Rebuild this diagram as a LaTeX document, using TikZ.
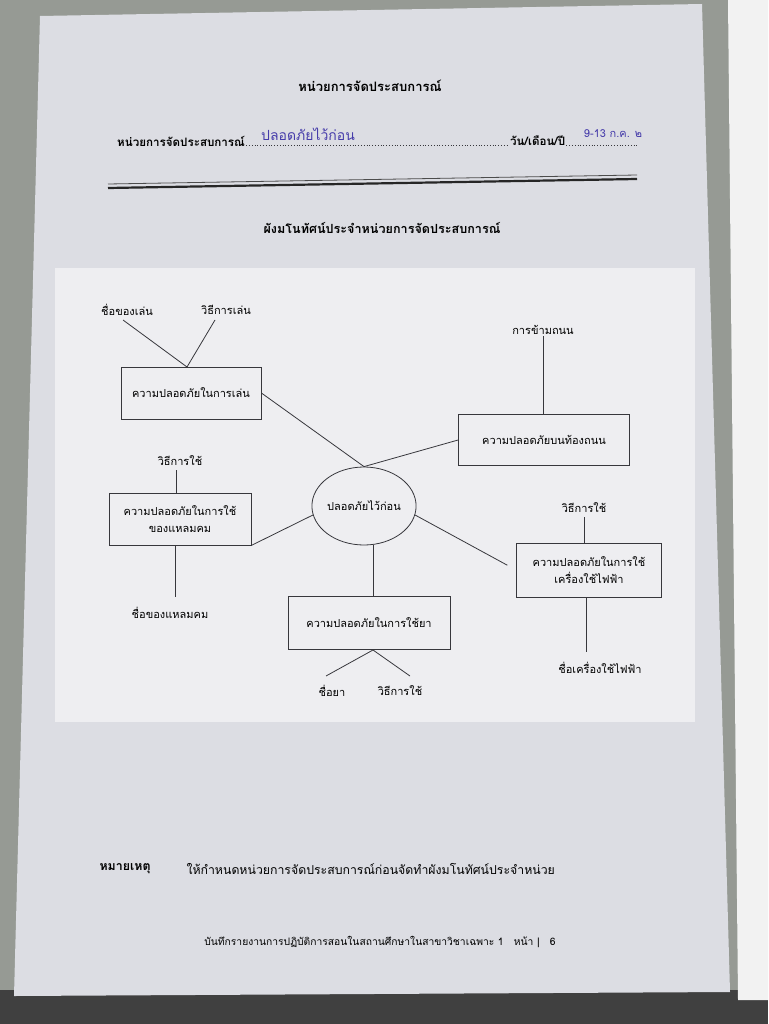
\documentclass[tikz,border=0pt]{standalone}
\usepackage{fontspec}
\newfontfamily\thai[Script=Thai]{Loma}
\usetikzlibrary{shapes.geometric}
\definecolor{ink}{RGB}{55,55,60}
\definecolor{pen}{RGB}{70,60,170}
\definecolor{paper}{RGB}{220,221,227}
\definecolor{panel}{RGB}{238,238,241}
\definecolor{floor}{RGB}{150,154,148}

\begin{document}
\begin{tikzpicture}[x=1pt,y=-1pt,font=\thai\fontsize{11}{13}\selectfont,
	box/.style={draw=ink,rectangle,thick,inner sep=2pt,align=center},
	lab/.style={inner sep=1pt},
	link/.style={draw=ink,thick}]
	\useasboundingbox (0,0) rectangle (768,1024);
	% page and background
	\fill[floor] (0,0) rectangle (768,1024);
	\fill[black!75] (0,990) rectangle (768,1024);
	\fill[white!90!gray] (728,0) -- (768,0) -- (768,1000) -- (738,1000) -- cycle;
	\fill[paper] (40,16) -- (702,4) -- (730,992) -- (14,996) -- cycle;
	\fill[panel] (55,268) rectangle (695,722);
	% heading
	\node (head) at (370,86) {\fontsize{13}{15}\selectfont\bfseries หน่วยการจัดประสบการณ์};
	\node[anchor=west,inner sep=0pt] (unit) at (117,141) {\fontsize{11.6}{13}\selectfont\bfseries หน่วยการจัดประสบการณ์};
	\node[anchor=west,inner sep=0pt] (day) at (510,141) {\fontsize{11.6}{13}\selectfont\bfseries วัน/เดือน/ปี};
	\draw[ink,dotted,thick] ([xshift=1pt,yshift=-4pt]unit.east) -- ([xshift=-1pt,yshift=-4pt]day.west);
	\draw[ink,dotted,thick] ([xshift=1pt,yshift=-4pt]day.east) -- ++(72,0);
	\node[text=pen] (hand) at (308,134) {\fontsize{14}{16}\selectfont ปลอดภัยไว้ก่อน};
	\node[text=pen] (date) at (613,134) {\fontsize{11}{13}\selectfont 9-13 ก.ค. ๒};
	\draw[black!85,line width=2.2pt] (108,188) -- (637,179);
	\draw[black!70,line width=0.8pt] (108,184) -- (637,175);
	\node (sub) at (382,228) {\fontsize{12.6}{15}\selectfont\bfseries ผังมโนทัศน์ประจำหน่วยการจัดประสบการณ์};
	% concept map
	\node[draw=ink,thick,ellipse,minimum width=94pt,minimum height=78pt,inner sep=0pt] (c) at (364,506) {ปลอดภัยไว้ก่อน};
	\node[box,minimum width=140pt,minimum height=52pt] (v1) at (191,393) {ความปลอดภัยในการเล่น};
	\node[box,minimum width=171pt,minimum height=51pt] (v2) at (544,440) {ความปลอดภัยบนท้องถนน};
	\node[box,minimum width=142pt,minimum height=52pt] (v3) at (180,519) {ความปลอดภัยในการใช้\\[4pt]ของแหลมคม};
	\node[box,minimum width=162pt,minimum height=53pt] (v4) at (369,623) {ความปลอดภัยในการใช้ยา};
	\node[box,minimum width=145pt,minimum height=54pt] (v5) at (589,570) {ความปลอดภัยในการใช้\\[4pt]เครื่องใช้ไฟฟ้า};
	\node[lab] (a1) at (127,310) {ชื่อของเล่น};
	\node[lab] (a2) at (226,310) {วิธีการเล่น};
	\node[lab] (b1) at (543,330) {การข้ามถนน};
	\node[lab] (d1) at (180,461) {วิธีการใช้};
	\node[lab] (d2) at (170,613) {ชื่อของแหลมคม};
	\node[lab] (e1) at (332,691) {ชื่อยา};
	\node[lab] (e2) at (400,691) {วิธีการใช้};
	\node[lab] (f1) at (584,508) {วิธีการใช้};
	\node[lab] (f2) at (600,668) {ชื่อเครื่องใช้ไฟฟ้า};
	\coordinate (t1) at (187,367);
	\coordinate (t4) at (373,650);
	\draw[link] (123,320) -- (t1) -- (215,320);
	\draw[link] (v1.east) -- (c.north);
	\draw[link] (v2.west) -- (c.north);
	\draw[link] (b1.south) -- (b1.south |- v2.north);
	\draw[link] (v3.south east) -- (c.190);
	\draw[link] (176,470) -- (176,493);
	\draw[link] (175,545) -- (175,597);
	\draw[link] (c.south -| t4) -- (t4 |- v4.north);
	\draw[link] (326,676) -- (t4) -- (410,676);
	\draw[link,shorten >=10pt] (c.350) -- (v5.west);
	\draw[link] (584,517) -- (584,543);
	\draw[link] (586,597) -- (586,652);
	% note and footer
	\node[anchor=west] (note) at (96,869) {\fontsize{12.4}{14}\selectfont\bfseries หมายเหตุ};
	\node[anchor=west] (notetext) at (183,869) {\fontsize{12.3}{14}\selectfont ให้กำหนดหน่วยการจัดประสบการณ์ก่อนจัดทำผังมโนทัศน์ประจำหน่วย};
	\node (foot) at (380,942) {\fontsize{10.3}{12}\selectfont บันทึกรายงานการปฏิบัติการสอนในสถานศึกษาในสาขาวิชาเฉพาะ 1\quad หน้า |\quad 6};
\end{tikzpicture}
\end{document}
